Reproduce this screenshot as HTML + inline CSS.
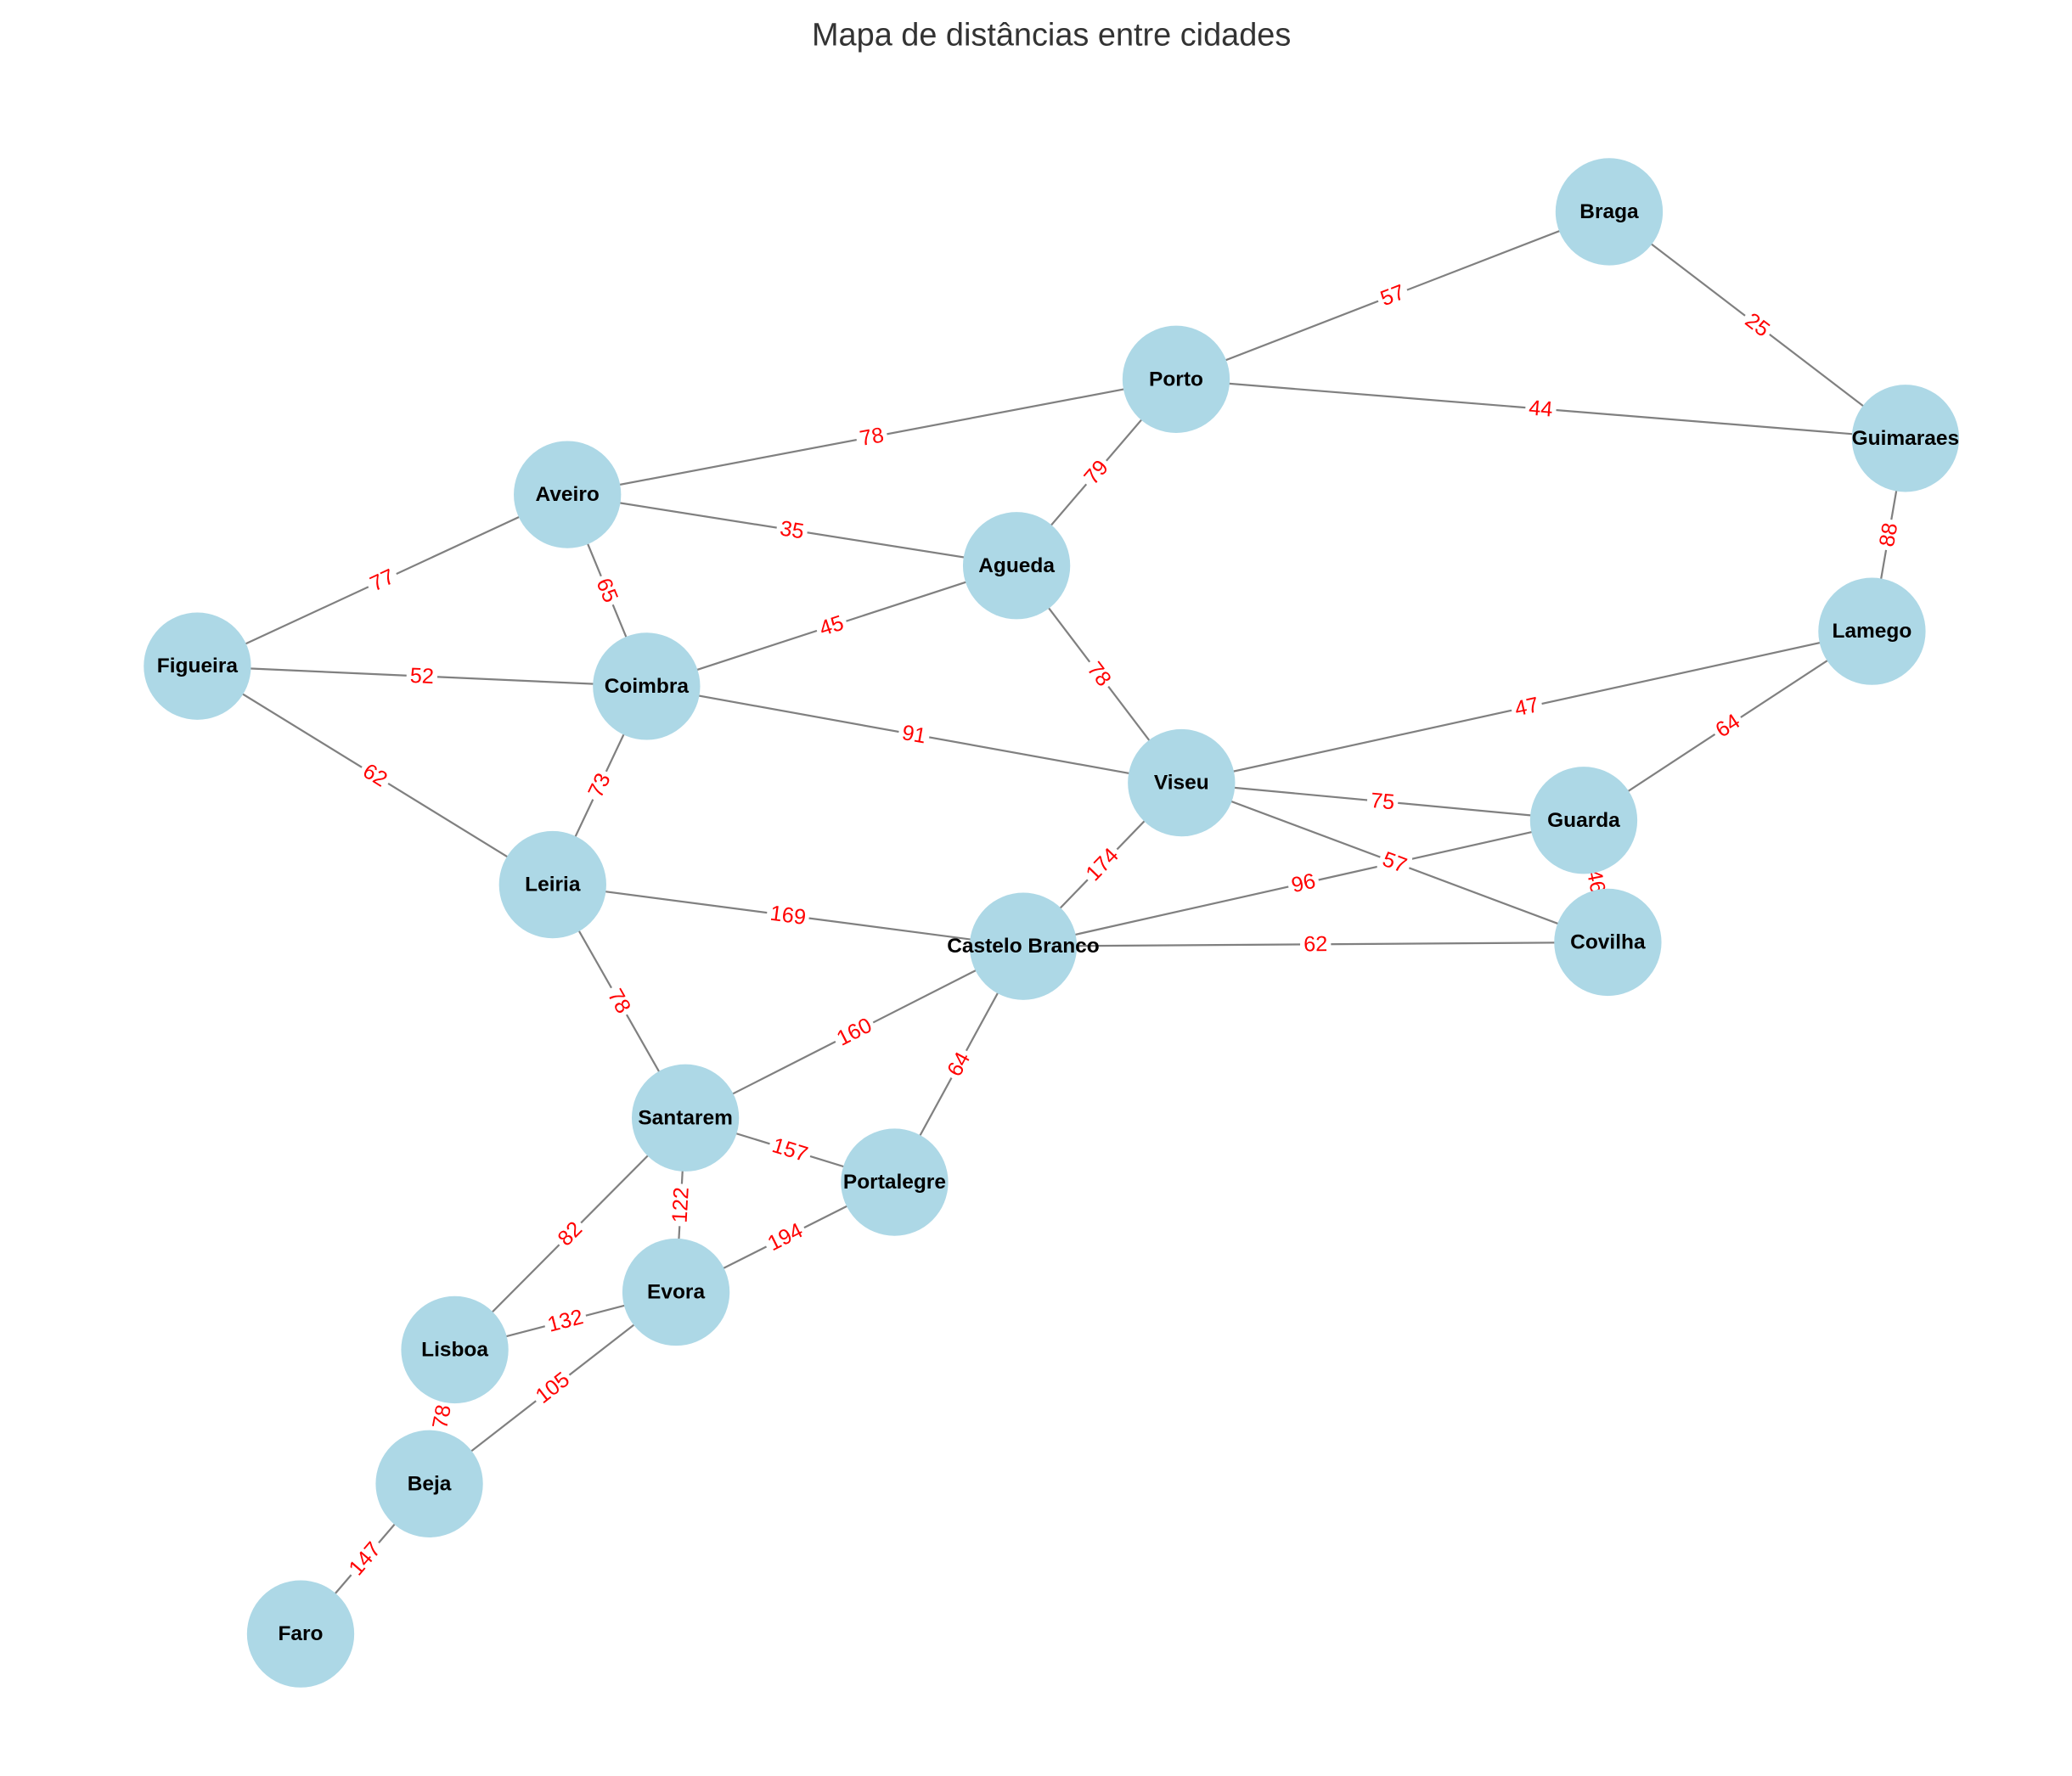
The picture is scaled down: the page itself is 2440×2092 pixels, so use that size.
<!DOCTYPE html>
<html><head><meta charset="utf-8"><style>
html,body{margin:0;padding:0;background:#fff;}
svg{display:block;}
</style></head><body>
<svg id="chart" width="2440" height="2092" viewBox="0 0 1545 1325" xmlns="http://www.w3.org/2000/svg">
<rect width="1545" height="1325" fill="#fff"/>
<text x="784" y="34" text-anchor="middle" font-family="Liberation Sans, DejaVu Sans, sans-serif" font-size="24" fill="#333">Mapa de distâncias entre cidades</text>
<g id="edges"></g><g id="elabels"></g><g id="nodes"></g>
</svg>
<script>
const nodeNames = ["Braga","Porto","Guimaraes","Aveiro","Agueda","Lamego","Figueira","Coimbra","Viseu","Guarda","Leiria","Castelo Branco","Covilha","Santarem","Portalegre","Evora","Lisboa","Beja","Faro"];
const nodeX = [1200,877,1421,423,758,1396,147,482,881,1181,412,763,1199,511,667,504,339,320,224];
const nodeY = [158,283,327,369,422,471,497,512,584,612,660,706,703,834,882,964,1007,1107,1219];
const edgeFrom = ["Porto","Braga","Porto","Aveiro","Porto","Aveiro","Aveiro","Figueira","Guimaraes","Coimbra","Figueira","Agueda","Lamego","Lamego","Coimbra","Viseu","Viseu","Figueira","Coimbra","Viseu","Castelo Branco","Guarda","Leiria","Castelo Branco","Leiria","Santarem","Castelo Branco","Santarem","Santarem","Evora","Santarem","Lisboa","Lisboa","Evora","Beja"];
const edgeTo = ["Braga","Guimaraes","Guimaraes","Porto","Agueda","Agueda","Coimbra","Aveiro","Lamego","Agueda","Coimbra","Viseu","Viseu","Guarda","Viseu","Guarda","Covilha","Leiria","Leiria","Castelo Branco","Guarda","Covilha","Castelo Branco","Covilha","Santarem","Castelo Branco","Portalegre","Portalegre","Evora","Portalegre","Lisboa","Evora","Beja","Beja","Faro"];
const edgeDist = [57,25,44,78,79,35,65,77,88,45,52,78,47,64,91,75,57,62,73,174,96,46,169,62,78,160,64,157,122,194,82,132,78,105,147];

const NS="http://www.w3.org/2000/svg";
const idx = n => nodeNames.indexOf(n);
const px = n => nodeX[idx(n)];
const py = n => nodeY[idx(n)];
const gE=document.getElementById('edges'), gL=document.getElementById('elabels'), gN=document.getElementById('nodes');
const slug = s => s.toLowerCase().replace(/\s+/g,'-');
edgeFrom.forEach((a,i)=>{
  const b=edgeTo[i];
  const x1=px(a),y1=py(a),x2=px(b),y2=py(b);
  const l=document.createElementNS(NS,'line');
  
  
  l.setAttribute('x1',x1);l.setAttribute('y1',y1);l.setAttribute('x2',x2);l.setAttribute('y2',y2);
  l.setAttribute('stroke','#808080');l.setAttribute('stroke-width','1.4');
  gE.appendChild(l);
  const mx=(x1+x2)/2,my=(y1+y2)/2;
  let ang=Math.atan2(y2-y1,x2-x1)*180/Math.PI;
  if(ang>90)ang-=180; if(ang<-90)ang+=180;
  const g=document.createElementNS(NS,'g');
  
  
  g.setAttribute('transform',`translate(${mx},${my}) rotate(${ang})`);
  const txt=String(edgeDist[i]);
  const w=txt.length*8.5+6;
  const r=document.createElementNS(NS,'rect');
  r.setAttribute('x',-w/2);r.setAttribute('y',-10);r.setAttribute('width',w);r.setAttribute('height',20);
  r.setAttribute('rx',4);r.setAttribute('fill','#fff');
  g.appendChild(r);
  const t=document.createElementNS(NS,'text');
  t.setAttribute('text-anchor','middle');t.setAttribute('dominant-baseline','central');
  t.setAttribute('font-family','Liberation Sans, DejaVu Sans, sans-serif');t.setAttribute('font-size','16');
  t.setAttribute('fill','red');t.textContent=txt;
  g.appendChild(t);
  gL.appendChild(g);
});
nodeNames.forEach((n,i)=>{
  const c=document.createElementNS(NS,'circle');
  
  
  c.setAttribute('cx',nodeX[i]);c.setAttribute('cy',nodeY[i]);c.setAttribute('r',40);
  c.setAttribute('fill','#add8e6');
  gN.appendChild(c);
  const t=document.createElementNS(NS,'text');
  
  
  t.setAttribute('x',nodeX[i]);t.setAttribute('y',nodeY[i]);
  t.setAttribute('text-anchor','middle');t.setAttribute('dominant-baseline','central');
  t.setAttribute('font-family','Liberation Sans, DejaVu Sans, sans-serif');t.setAttribute('font-size','15.5');
  t.setAttribute('font-weight','bold');t.setAttribute('fill','#000');
  t.textContent=n;
  gN.appendChild(t);
});
</script>
</body></html>
